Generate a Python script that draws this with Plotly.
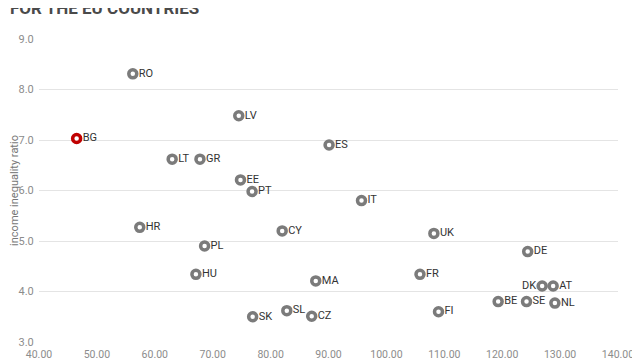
import plotly.graph_objects as go

countries = ["RO", "LV", "BG", "LT", "GR", "EE", "PT", "HR", "CY", "ES", "PL",
             "IT", "UK", "DE", "MA", "FR", "DK", "AT", "BE", "SE", "NL", "FI",
             "CZ", "HU", "SK", "SL"]
gdp_pps = [56.2, 74.5, 46.5, 63.0, 67.8, 74.8, 76.8, 57.4, 82.0, 90.1, 68.6,
           95.7, 108.2, 124.4, 87.8, 105.8, 126.9, 128.8, 119.3, 124.2, 129.1, 109.0,
           87.1, 67.1, 76.9, 82.8]
inequality = [8.31, 7.48, 7.03, 6.62, 6.62, 6.21, 5.98, 5.27, 5.20, 6.90, 4.90,
              5.80, 5.15, 4.79, 4.21, 4.34, 4.11, 4.11, 3.80, 3.80, 3.77, 3.60,
              3.51, 4.34, 3.50, 3.62]
label_left = ["DK"]
highlight = ["BG"]

x_ticks = [40, 50, 60, 70, 80, 90, 100, 110, 120, 130, 140]
y_ticks = [3, 4, 5, 6, 7, 8, 9]

FONT = "Roboto, Liberation Sans, sans-serif"
GREY = "#7b7b7b"
RED = "#c00000"

colors = [RED if c in highlight else GREY for c in countries]
positions = ["middle left" if c in label_left else "middle right" for c in countries]

fig = go.Figure()
fig.add_trace(go.Scatter(
    x=gdp_pps, y=inequality, mode="markers+text",
    text=countries, textposition=positions,
    textfont=dict(family=FONT, size=11, color="#333333"),
    marker=dict(size=8, color="white", line=dict(color=colors, width=3.5)),
    cliponaxis=False, hoverinfo="skip", showlegend=False,
))

fig.add_annotation(
    text="<b>FOR THE EU COUNTRIES</b>", showarrow=False,
    xref="paper", yref="paper", x=-0.053, y=1.062,
    xanchor="left", yanchor="bottom",
    font=dict(family=FONT, size=17, color="#4a4a4a"),
)

fig.update_layout(
    width=632, height=352,
    margin=dict(l=31, r=22, t=31, b=18),
    paper_bgcolor="white", plot_bgcolor="white",
    font=dict(family=FONT),
    xaxis=dict(range=[40, 140], tickvals=x_ticks,
               ticktext=[f"{v:.2f}" for v in x_ticks],
               showgrid=False, zeroline=False, showline=False,
               ticks="outside", ticklen=2, tickcolor="rgba(0,0,0,0)",
               automargin=False,
               tickfont=dict(family=FONT, size=10.5, color="#8c8c8c")),
    yaxis=dict(range=[3, 9], tickvals=y_ticks,
               ticktext=[f"{v:.1f}" for v in y_ticks],
               showgrid=True, gridcolor="#e4e4e4", gridwidth=1,
               zeroline=False, showline=False,
               ticks="outside", ticklen=2, tickcolor="rgba(0,0,0,0)",
               automargin=False,
               tickfont=dict(family=FONT, size=11, color="#8c8c8c"),
               title=dict(text="income inequality ratio", standoff=0,
                          font=dict(family=FONT, size=11, color="#777777"))),
)

fig.write_html("out.html")
